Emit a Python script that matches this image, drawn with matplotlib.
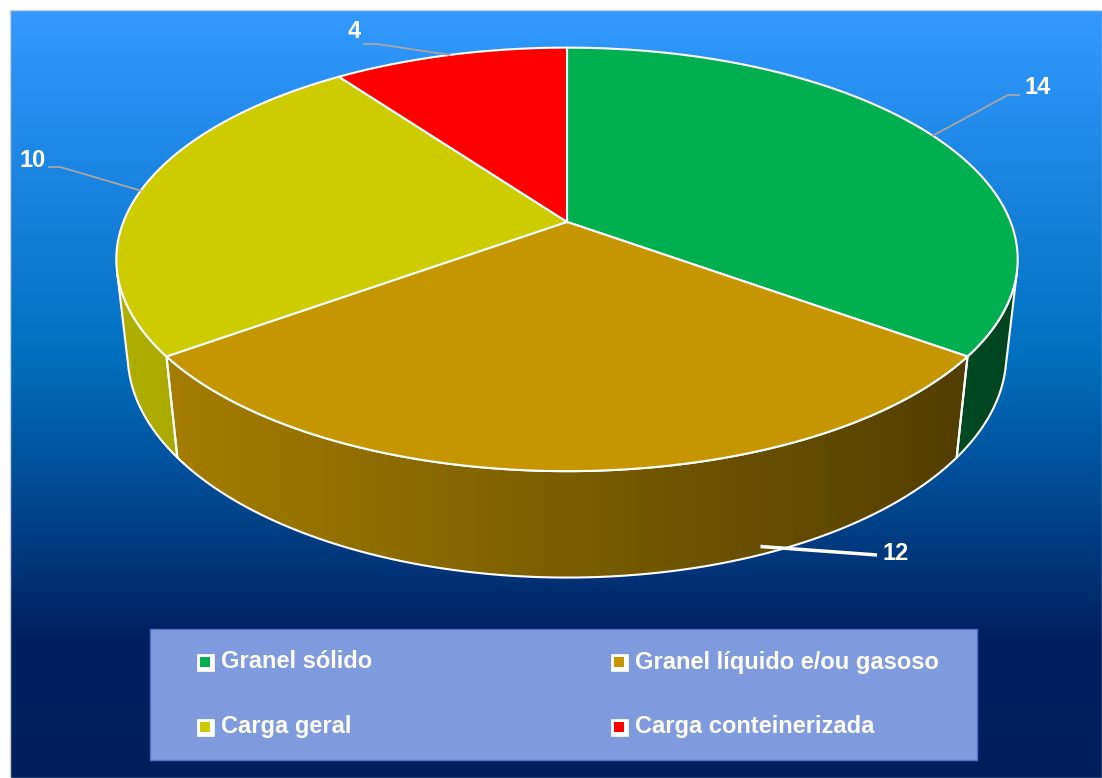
import numpy as np
import matplotlib.pyplot as plt
from matplotlib.patches import Polygon, Rectangle
from matplotlib.colors import to_rgb, LinearSegmentedColormap

plt.rcParams['font.family'] = ['Liberation Sans', 'DejaVu Sans']

categories = ['Granel sólido', 'Granel líquido e/ou gasoso', 'Carga geral', 'Carga conteinerizada']
values = [14, 12, 10, 4]
colors = ['#00B050', '#C59600', '#CCCC00', '#FF0000']

# perspective camera for the 3D pie (fitted by eye)
ELEV = np.radians(30)
DIST = 5.0125
FOCAL = 2169
THICK = 0.245
CX, CY = 567, 316
W, H = 1102, 778


def project(t, r=1.0, z=0.0):
    cs, sn = np.cos(ELEV), np.sin(ELEV)
    rx = r * np.cos(t)
    ry = r * np.sin(t) + DIST * cs
    rz = z - DIST * sn
    depth = ry * cs - rz * sn
    up = ry * sn + rz * cs
    return CX + FOCAL * rx / depth, CY - FOCAL * up / depth


def shade(x):
    return np.clip(0.86 - 0.47 * (x - 120) / 890, 0.3, 1)


fig = plt.figure(figsize=(W / 100, H / 100), dpi=100, facecolor='white')
ax = fig.add_axes([0, 0, 1, 1])
ax.set_xlim(0, W)
ax.set_ylim(H, 0)
ax.axis('off')

# background gradient
bg = LinearSegmentedColormap.from_list('bg', [(0, '#3399FF'), (0.45, '#0070C0'),
                                              (0.82, '#002060'), (1, '#001F5C')])
grad = np.linspace(0, 1, 256).reshape(-1, 1)
ax.imshow(grad, cmap=bg, aspect='auto', extent=(10, W, H, 10), zorder=0)
ax.add_patch(Rectangle((10, 10), W - 10, H - 10, fill=False, ec='#D0D0D0', lw=1, zorder=1))

total = sum(values)
bounds = np.radians(90 - 360 * np.concatenate([[0], np.cumsum(values)]) / total)
lim = np.arcsin(1 / (DIST * np.cos(ELEV)))
vis_lo, vis_hi = -np.pi + lim, -lim

# side walls
xs = np.arange(W)
for i in range(len(values)):
    t_hi, t_lo = bounds[i], bounds[i + 1]
    for k in (-1, 0, 1):
        lo = max(t_lo + 2 * np.pi * k, vis_lo)
        hi = min(t_hi + 2 * np.pi * k, vis_hi)
        if lo >= hi:
            continue
        tt = np.linspace(hi, lo, 200)
        x1, y1 = project(tt, z=THICK)
        x0, y0 = project(tt[::-1], z=0)
        pts = np.column_stack([np.concatenate([x1, x0]), np.concatenate([y1, y0])])
        poly = Polygon(pts, closed=True, fc='none', ec='white', lw=1.5, zorder=3)
        ax.add_patch(poly)
        img = np.ones((2, W, 3)) * np.array(to_rgb(colors[i]))
        img *= shade(xs)[None, :, None]
        im = ax.imshow(img, aspect='auto', extent=(0, W, H, 0), zorder=2,
                       interpolation='bilinear')
        im.set_clip_path(poly)

# top faces
cx0, cy0 = project(0.0, r=0.0, z=THICK)
for i in range(len(values)):
    tt = np.linspace(bounds[i], bounds[i + 1], 300)
    x1, y1 = project(tt, z=THICK)
    pts = np.column_stack([np.concatenate([[cx0], x1]), np.concatenate([[cy0], y1])])
    ax.add_patch(Polygon(pts, closed=True, fc=colors[i], ec='white', lw=1.5, zorder=4))

# data labels: text position, elbow of leader, alignment
label_xy = [(1024, 87), (883, 553), (46, 160), (354, 31)]
elbows = [[(1008, 95), (1019, 95)], None, [(60, 167), (49, 167)], [(377, 44), (364, 44)]]
aligns = ['left', 'left', 'right', 'center']
for i in range(len(values)):
    mid = (bounds[i] + bounds[i + 1]) / 2
    if elbows[i] is None:
        ax_, ay_ = project(np.radians(-68), z=0.02)
        ax.plot([ax_, 877], [ay_, 555], color='white', lw=2.5, zorder=6,
                solid_capstyle='butt')
    else:
        ax_, ay_ = project(mid, z=THICK)
        px = [ax_] + [p[0] for p in elbows[i]]
        py = [ay_] + [p[1] for p in elbows[i]]
        ax.plot(px, py, color='#A6A6A6', lw=1.3, zorder=6)
    ax.text(label_xy[i][0], label_xy[i][1], str(values[i]), color='white',
            fontsize=17, fontweight='bold', ha=aligns[i], va='center', zorder=7)

# legend box
ax.add_patch(Rectangle((150, 629), 827, 131, fc='#7F9ADD', ec='#5573C4', lw=1, zorder=5))
col_x = [205, 619]
row_y = [662, 727]
for i, name in enumerate(categories):
    mx, my = col_x[i % 2], row_y[i // 2]
    ax.add_patch(Rectangle((mx - 8.5, my - 8.5), 17, 17, fc='white', ec='white', lw=0.5, zorder=6))
    ax.add_patch(Rectangle((mx - 5, my - 5), 10, 10, fc=colors[i], ec='none', zorder=7))
    ax.text(mx + 16, my, name, color='white', fontsize=17, fontweight='bold',
            ha='left', va='center', zorder=7)

fig.savefig('out.png', dpi=100, facecolor='white')
